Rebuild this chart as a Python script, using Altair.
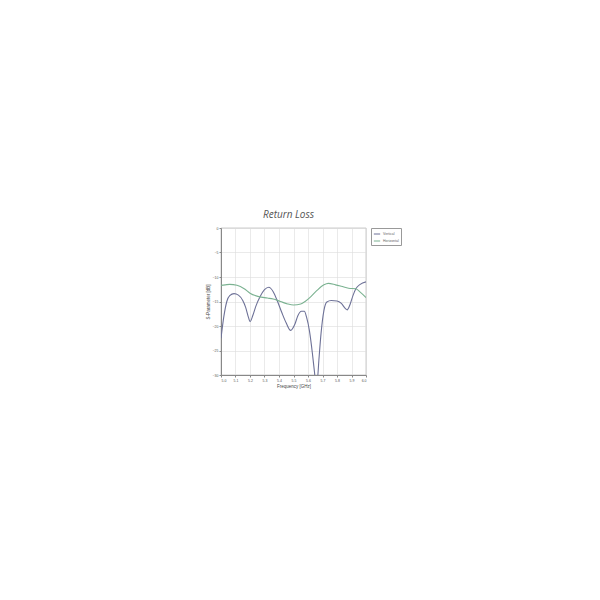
import altair as alt
import pandas as pd

v_freq = [5.00, 5.02, 5.04, 5.06, 5.09, 5.12, 5.15, 5.17, 5.19, 5.20, 5.22, 5.24, 5.27, 5.30, 5.33,
          5.36, 5.39, 5.42, 5.45, 5.48, 5.51, 5.53, 5.555, 5.575, 5.59, 5.61, 5.63, 5.645, 5.655,
          5.665, 5.675, 5.69, 5.71, 5.73, 5.76, 5.80, 5.83, 5.86, 5.87, 5.89, 5.91, 5.93, 5.96, 6.00]
v_db = [-22.5, -18.0, -15.0, -13.8, -13.4, -13.7, -14.8, -16.2, -18.3, -19.1, -17.8, -16.0, -14.0, -12.6, -12.1,
        -13.0, -15.0, -17.3, -19.4, -20.9, -19.6, -17.9, -17.0, -17.0, -18.2, -21.0, -25.5, -29.5, -32.0,
        -31.0, -27.0, -21.5, -16.8, -15.1, -14.8, -14.9, -15.4, -16.5, -16.7, -15.6, -13.8, -12.4, -11.5, -11.0]

h_freq = [5.00, 5.03, 5.06, 5.11, 5.16, 5.20, 5.26, 5.32, 5.36, 5.41, 5.46, 5.50, 5.55, 5.58, 5.62,
          5.66, 5.71, 5.74, 5.79, 5.83, 5.88, 5.93, 5.96, 6.00]
h_db = [-11.7, -11.6, -11.5, -11.7, -12.4, -13.3, -14.0, -14.3, -14.5, -15.0, -15.5, -15.7, -15.5, -15.0, -14.0,
        -12.8, -11.6, -11.3, -11.6, -11.9, -12.3, -12.4, -13.1, -14.2]

series = ["Vertical", "Horizontal"]
colors = ["#6d7197", "#7bb291"]
x_ticks = [5.0, 5.1, 5.2, 5.3, 5.4, 5.5, 5.6, 5.7, 5.8, 5.9, 6.0]
y_ticks = [0, -5, -10, -15, -20, -25, -30]

rows = []
for f, d in zip(v_freq, v_db):
    rows.append({"freq": f, "db": d, "series": "Vertical", "order": len(rows)})
for f, d in zip(h_freq, h_db):
    rows.append({"freq": f, "db": d, "series": "Horizontal", "order": len(rows)})
df = pd.DataFrame(rows)

chart = alt.Chart(df).mark_line(strokeWidth=1.1, interpolate="monotone", clip=True).encode(
    x=alt.X("freq:Q", title="Frequency [GHz]",
            scale=alt.Scale(domain=[5.0, 6.0], nice=False, zero=False),
            axis=alt.Axis(values=x_ticks, format=".1f")),
    y=alt.Y("db:Q", title="S-Parameter [dB]",
            scale=alt.Scale(domain=[-30, 0], nice=False),
            axis=alt.Axis(values=y_ticks)),
    color=alt.Color("series:N", scale=alt.Scale(domain=series, range=colors),
                    legend=alt.Legend(title=None, orient="none", legendX=150, legendY=0,
                                      symbolType="stroke", symbolSize=40, symbolStrokeWidth=1,
                                      labelFontSize=3.5, labelColor="#666",
                                      strokeColor="#999", padding=2, rowPadding=1,
                                      labelOffset=2)),
    detail="series:N",
    order="order:Q",
).properties(
    width=145,
    height=147,
    title=alt.TitleParams("Return Loss", fontSize=10, fontStyle="italic", fontWeight="normal",
                          color="#555", font="Open Sans", offset=6, dx=-5),
    autosize=alt.AutoSizeParams(type="none"),
    padding={"left": 213, "top": 220, "right": 50, "bottom": 200},
).configure_axis(
    labelFontSize=3.5, titleFontSize=4.5, labelColor="#555", titleColor="#444",
    titleFontWeight="normal", gridColor="#dcdcdc", gridWidth=0.6,
    domainColor="#888", tickColor="#888", tickSize=2, labelPadding=1, titlePadding=2,
).configure_view(stroke="#999", strokeWidth=0.6)

chart.save("out.html", embed_options={"renderer": "svg", "actions": False})
